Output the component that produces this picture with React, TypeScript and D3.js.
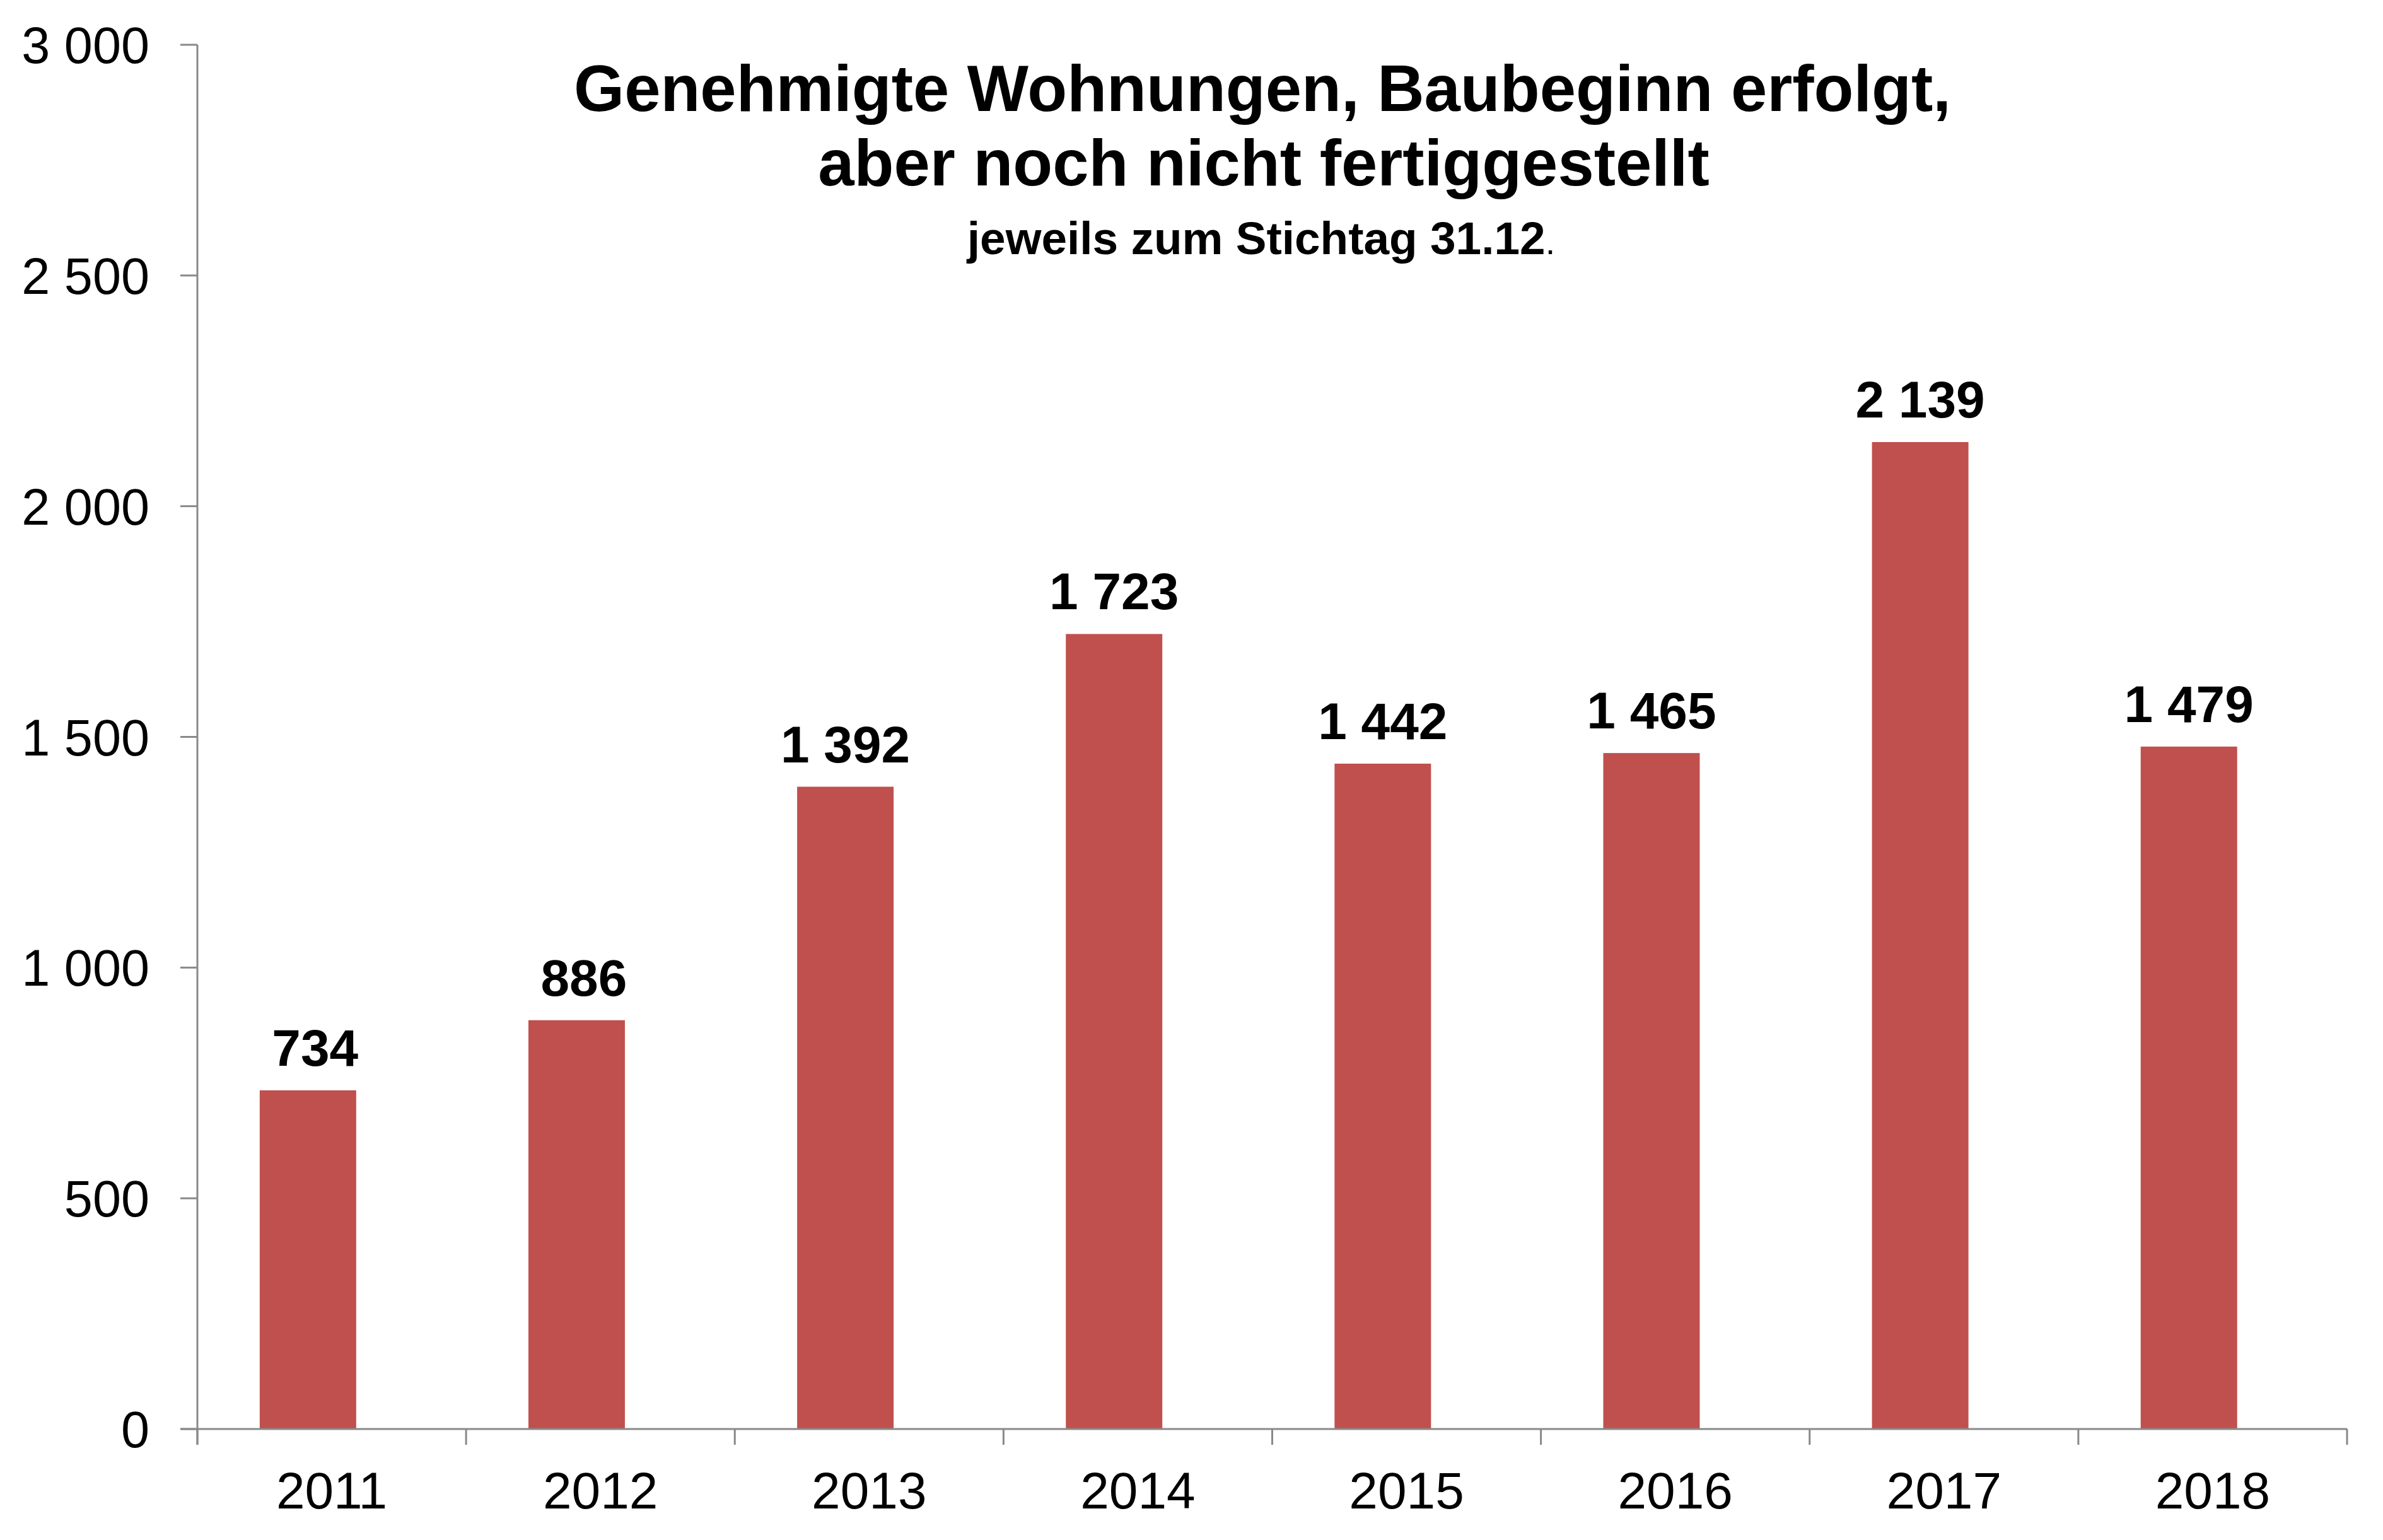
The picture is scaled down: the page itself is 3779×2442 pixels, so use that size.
import React from "react";
import * as d3 from "d3";

const categories = ["2011", "2012", "2013", "2014", "2015", "2016", "2017", "2018"];
const values = [734, 886, 1392, 1723, 1442, 1465, 2139, 1479];
const yTicks = [0, 500, 1000, 1500, 2000, 2500, 3000];
const titleLines = ["Genehmigte Wohnungen, Baubeginn erfolgt,", "aber noch nicht fertiggestellt"];
const subtitle = "jeweils zum Stichtag 31.12";

const W = 3779;
const H = 2442;
const FONT = "'Liberation Sans', Arial, Helvetica, sans-serif";
const AXIS = "#898989";
const BAR = "#C0504D";

const fmtRaw = d3.formatLocale({ decimal: ",", thousands: " ", grouping: [3], currency: ["", "€"] }).format(",d");
const fmt = (v: number) => fmtRaw(v);
// Excel-style "# ##0" label format: values below 1000 keep a leading blank for the group separator
const fmtLabel = (v: number) => (v < 1000 ? "\u00A0" + fmtRaw(v) : fmtRaw(v));

export default function App() {
  const x = d3.scaleBand<string>().domain(categories).range([313, 3722]).paddingInner(0).paddingOuter(0);
  const y = d3.scaleLinear().domain([0, 3000]).range([2266, 71]);
  const bw = x.bandwidth();
  const barW = bw * 0.359;
  const barOff = bw * 0.232;
  const boundaries = categories.map((c) => x(c) as number).concat([x.range()[1]]);

  return (
    <svg
      width={W}
      height={H}
      viewBox={`0 0 ${W} ${H}`}
      style={{ position: "absolute", left: 0, top: 0, background: "#fff" }}
      fontFamily={FONT}
    >
      <rect x={0} y={0} width={W} height={H} fill="#fff" />
      {/* bars */}
      {values.map((v, i) => {
        const x0 = (x(categories[i]) as number) + barOff;
        return (
          <rect key={"b" + i} x={x0} y={y(v)} width={barW} height={y(0) - y(v)} fill={BAR} />
        );
      })}
      {/* data labels */}
      {values.map((v, i) => {
        const cx = (x(categories[i]) as number) + barOff + barW / 2;
        return (
          <text key={"l" + i} x={cx} y={y(v) - 39} textAnchor="middle" fontSize={82} fontWeight="bold" fill="#000">
            {fmtLabel(v)}
          </text>
        );
      })}
      {/* y axis */}
      <line x1={313} x2={313} y1={y(3000)} y2={y(0) + 25} stroke={AXIS} strokeWidth={3} />
      {yTicks.map((t) => (
        <g key={"yt" + t}>
          <line x1={286} x2={313} y1={y(t)} y2={y(t)} stroke={AXIS} strokeWidth={3} />
          <text x={237} y={y(t) + 29} textAnchor="end" fontSize={81} fill="#000">
            {fmt(t)}
          </text>
        </g>
      ))}
      {/* x axis */}
      <line x1={286} x2={x.range()[1]} y1={y(0)} y2={y(0)} stroke={AXIS} strokeWidth={3} />
      {boundaries.map((bx, i) => (
        <line key={"xt" + i} x1={bx} x2={bx} y1={y(0)} y2={y(0) + 25} stroke={AXIS} strokeWidth={3} />
      ))}
      {categories.map((c) => (
        <text key={"xl" + c} x={(x(c) as number) + bw / 2} y={2392} textAnchor="middle" fontSize={82} fill="#000">
          {c}
        </text>
      ))}
      {/* title */}
      <text x={2002} y={176} textAnchor="middle" fontSize={103} fontWeight="bold" fill="#000">
        {titleLines[0]}
      </text>
      <text x={2004} y={294} textAnchor="middle" fontSize={103} fontWeight="bold" fill="#000">
        {titleLines[1]}
      </text>
      <text x={2000} y={403} textAnchor="middle" fontSize={73} fontWeight="bold" fill="#000">
        {subtitle}
        <tspan fontWeight="normal" fontSize={56}>.</tspan>
      </text>
    </svg>
  );
}
